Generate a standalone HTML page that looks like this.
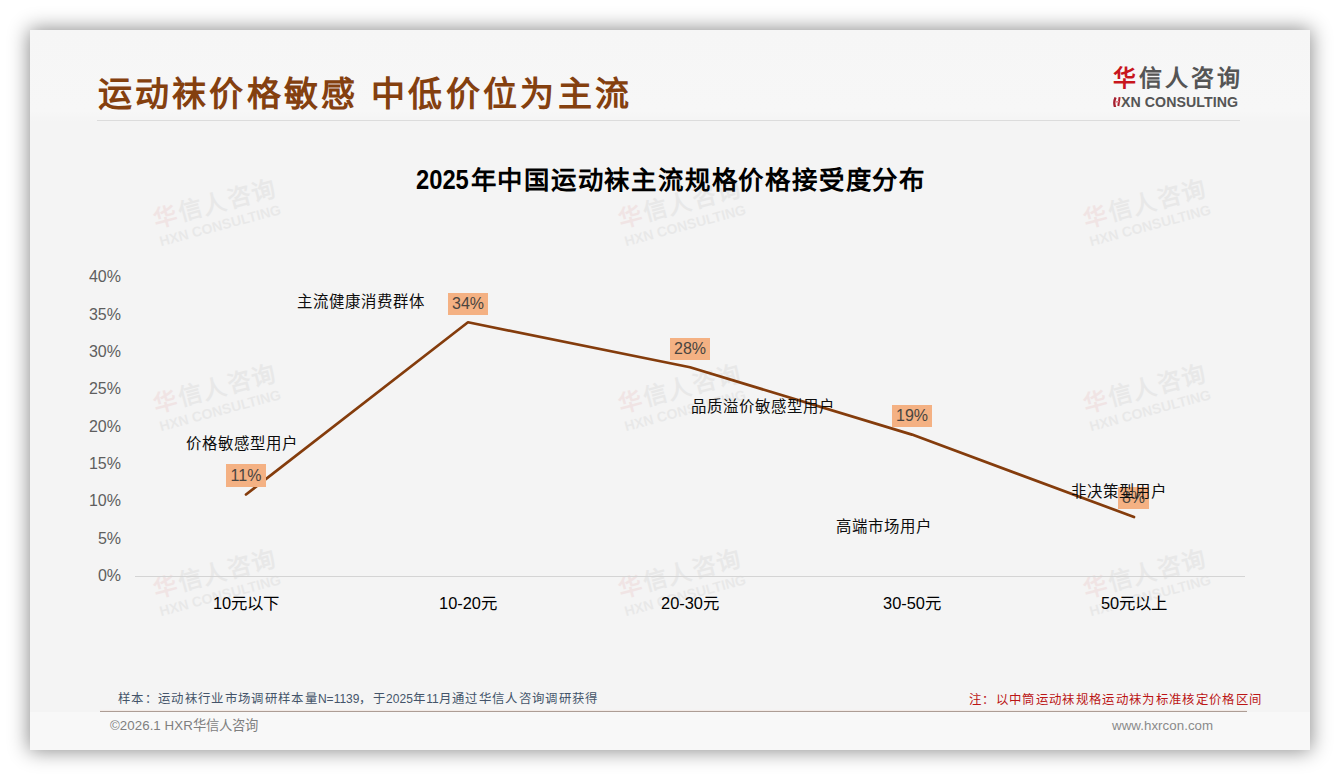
<!DOCTYPE html>
<html lang="zh-CN">
<head>
<meta charset="utf-8">
<title>运动袜价格敏感 中低价位为主流</title>
<style>
*{margin:0;padding:0;box-sizing:border-box}
html,body{width:1340px;height:780px;background:#fff;overflow:hidden}
body{font-family:"Liberation Sans",sans-serif;position:relative}
.slide{position:absolute;left:30px;top:30px;width:1280px;height:720px;background:#f4f4f4;box-shadow:0 0 19px 1px rgba(0,0,0,.46);overflow:hidden}
.hdr{position:absolute;left:0;top:0;width:1280px;height:92px;background:linear-gradient(#f6f6f6,#f7f7f7 88%,#f4f4f4)}
.ftr{position:absolute;left:0;top:682px;width:1280px;height:38px;background:#f8f8f8}
.abs{position:absolute;white-space:nowrap}
.title{left:67.5px;top:39.5px;font-size:34px;line-height:48px;font-weight:bold;color:#84400f;letter-spacing:3.3px;word-spacing:-.2px}
.hline{left:67px;top:89.5px;width:1143px;height:1px;background:#dcdcdc}
.logo1{left:1082.5px;top:32px;font-size:23px;line-height:32px;font-weight:bold;color:#555;letter-spacing:3.1px}
.logo1 b{color:#c8161d}
.logo2{left:1091px;top:64px;font-size:14.2px;line-height:16px;font-weight:bold;color:#555;letter-spacing:.05px}
.hico{position:absolute;left:1082.6px;top:66.5px}
.logo2 b{color:#c8161d}
.ctitle{left:386px;top:132px;font-size:25.4px;line-height:36px;font-weight:bold;color:#000;letter-spacing:1.8px}
.ctitle i{font-style:normal;display:inline-block;width:54.5px;letter-spacing:0;font-size:27.6px;transform:scaleX(.86);transform-origin:0 50%;vertical-align:top}
.wm{position:absolute;width:140px;height:50px;opacity:.068;transform:rotate(-15deg);transform-origin:50% 50%}
.wm .a{position:absolute;left:1px;top:1px;font-size:23.6px;line-height:30px;font-weight:bold;color:#555;white-space:nowrap;letter-spacing:1.4px}
.wm .a b{color:#c8161d}
.wm .b{position:absolute;left:1px;top:30px;font-size:14px;line-height:16px;font-weight:bold;color:#555;white-space:nowrap}
.yl{position:absolute;left:41px;width:50px;text-align:right;font-size:16px;line-height:20px;color:#5e5e5e}
.xl{position:absolute;width:160px;text-align:center;font-size:16.4px;line-height:20px;color:#000;top:563px}
.axis{left:104.5px;top:545.5px;width:1110.5px;height:1px;background:#d4d4d4}
.dl{position:absolute;width:40px;height:22px;background:#f4b183;color:#4a4540;font-size:16px;line-height:22px;text-align:center}
.an{position:absolute;white-space:nowrap;font-size:15.4px;line-height:20px;color:#0d0d0d;letter-spacing:1px}
.src{left:88px;top:661px;font-size:12.4px;line-height:16px;color:#44546a;letter-spacing:1.33px}
.src i{font-style:normal;letter-spacing:0;font-size:12px}
.note{left:939px;top:662px;font-size:12.4px;line-height:16px;color:#bb1515;letter-spacing:1.33px}
.fline{left:70px;top:680.5px;width:1147px;height:1px;background:#ad9d95;box-shadow:0 -1px 1px rgba(244,177,131,.15)}
.copy{left:80px;top:688px;font-size:13.3px;line-height:16px;color:#7f7f7f;letter-spacing:.05px}
.url{left:1082px;top:687.5px;font-size:13.3px;line-height:16px;color:#8a8a8a;letter-spacing:.05px}
svg.plot{position:absolute;left:0;top:0}
</style>
</head>
<body>
<div class="slide">
  <div class="hdr"></div>
  <div class="ftr"></div>
  <div class="abs title">运动袜价格敏感 中低价位为主流</div>
  <div class="abs hline"></div>
  <div class="abs logo1"><b>华</b>信人咨询</div>
  <svg class="hico" width="8" height="10.5" viewBox="0 0 8 10.5"><path d="M2.6,.4Q.2,5.2 2.1,10.2" fill="none" stroke="#a51f2e" stroke-width="2.3"/><path d="M6.6,.2L5.3,9" fill="none" stroke="#ad1f2d" stroke-width="2"/><path d="M2.6,4.9L6,4.4" fill="none" stroke="#e07c86" stroke-width="1.5"/></svg>
  <div class="abs logo2">XN CONSULTING</div>
  <div class="abs ctitle"><i>2025</i>年中国运动袜主流规格价格接受度分布</div>

  <div class="wm" style="left:123px;top:156px"><div class="a"><b>华</b>信人咨询</div><div class="b">HXN CONSULTING</div></div>
  <div class="wm" style="left:588px;top:156px"><div class="a"><b>华</b>信人咨询</div><div class="b">HXN CONSULTING</div></div>
  <div class="wm" style="left:1053px;top:156px"><div class="a"><b>华</b>信人咨询</div><div class="b">HXN CONSULTING</div></div>
  <div class="wm" style="left:123px;top:341px"><div class="a"><b>华</b>信人咨询</div><div class="b">HXN CONSULTING</div></div>
  <div class="wm" style="left:588px;top:341px"><div class="a"><b>华</b>信人咨询</div><div class="b">HXN CONSULTING</div></div>
  <div class="wm" style="left:1053px;top:341px"><div class="a"><b>华</b>信人咨询</div><div class="b">HXN CONSULTING</div></div>
  <div class="wm" style="left:123px;top:526px"><div class="a"><b>华</b>信人咨询</div><div class="b">HXN CONSULTING</div></div>
  <div class="wm" style="left:588px;top:526px"><div class="a"><b>华</b>信人咨询</div><div class="b">HXN CONSULTING</div></div>
  <div class="wm" style="left:1053px;top:526px"><div class="a"><b>华</b>信人咨询</div><div class="b">HXN CONSULTING</div></div>

  <div class="yl" style="top:237px">40%</div>
  <div class="yl" style="top:275px">35%</div>
  <div class="yl" style="top:312px">30%</div>
  <div class="yl" style="top:349px">25%</div>
  <div class="yl" style="top:387px">20%</div>
  <div class="yl" style="top:424px">15%</div>
  <div class="yl" style="top:461px">10%</div>
  <div class="yl" style="top:499px">5%</div>
  <div class="yl" style="top:536px">0%</div>
  <div class="abs axis"></div>

  <svg class="plot" width="1280" height="720" viewBox="0 0 1280 720">
    <polyline points="216,464.5 438,292.3 660,337.3 882,404.6 1104,487.0" fill="none" stroke="#843c0c" stroke-width="2.7" stroke-linejoin="round" stroke-linecap="round"/>
  </svg>

  <div class="dl" style="left:196px;top:434px;height:23px;line-height:24px">11%</div>
  <div class="dl" style="left:418px;top:263px">34%</div>
  <div class="dl" style="left:640px;top:308px">28%</div>
  <div class="dl" style="left:862px;top:375px">19%</div>
  <div class="dl" style="left:1088px;top:457px;width:31px">8%</div>

  <div class="an" style="left:156px;top:404px">价格敏感型用户</div>
  <div class="an" style="left:267px;top:262px">主流健康消费群体</div>
  <div class="an" style="left:661px;top:367px">品质溢价敏感型用户</div>
  <div class="an" style="left:806px;top:487px">高端市场用户</div>
  <div class="an" style="left:1041px;top:452px">非决策型用户</div>

  <div class="xl" style="left:136px">10元以下</div>
  <div class="xl" style="left:358px">10-20元</div>
  <div class="xl" style="left:580px">20-30元</div>
  <div class="xl" style="left:802px">30-50元</div>
  <div class="xl" style="left:1024px">50元以上</div>

  <div class="abs src">样本：运动袜行业市场调研样本量<i>N=1139</i>，于<i>2025</i>年<i>11</i>月通过华信人咨询调研获得</div>
  <div class="abs note">注：以中筒运动袜规格运动袜为标准核定价格区间</div>
  <div class="abs fline"></div>
  <div class="abs copy">©2026.1 HXR华信人咨询</div>
  <div class="abs url">www.hxrcon.com</div>
</div>
</body>
</html>
